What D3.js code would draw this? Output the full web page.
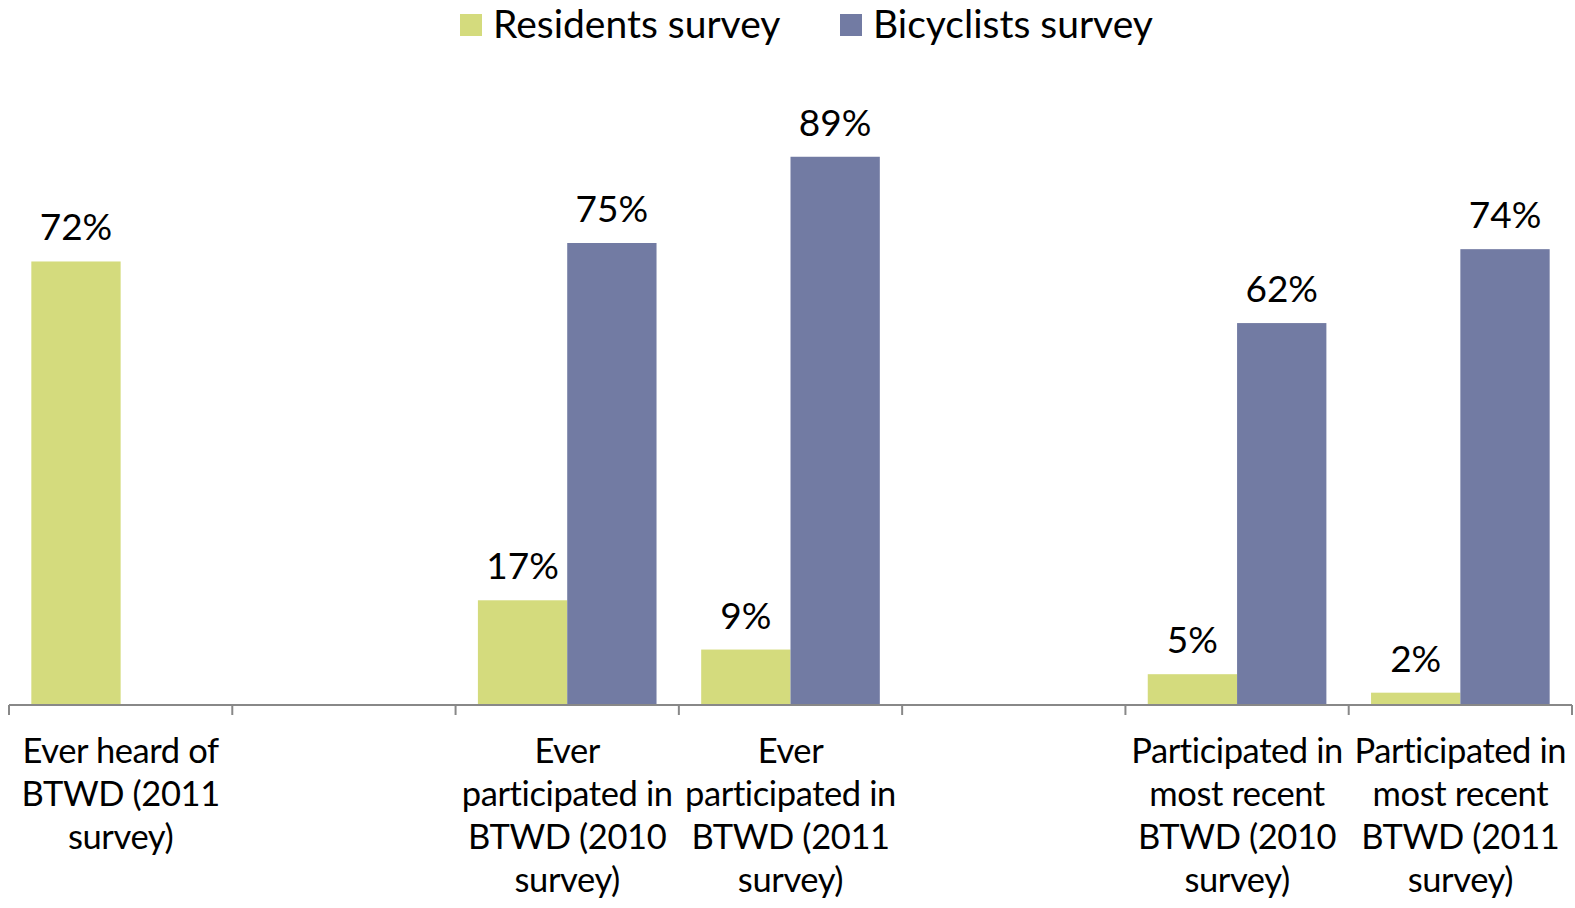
<!DOCTYPE html>
<html><head><meta charset="utf-8">
<script src="https://cdn.jsdelivr.net/npm/d3@7"></script>
<style>body{margin:0;background:#fff}svg{display:block}text{font-family:Lato,"Open Sans",sans-serif;fill:#000}</style>
</head><body>
<svg id="c" width="1575" height="908"></svg>
<script>
const categories = ["c0","c1","c2","c3","c4","c5","c6"];
const categoryLabels = [
  ["Ever heard of","BTWD (2011","survey)"],
  [],
  ["Ever","participated in","BTWD (2010","survey)"],
  ["Ever","participated in","BTWD (2011","survey)"],
  [],
  ["Participated in","most recent","BTWD (2010","survey)"],
  ["Participated in","most recent","BTWD (2011","survey)"]
];
const seriesNames = ["Residents survey","Bicyclists survey"];
const residents = [72, null, 17, 9, null, 5, 2];
const bicyclists = [null, null, 75, 89, null, 62, 74];
const colors = ["#D4DB7D","#727BA3"];

const svg = d3.select("#c");
const x = d3.scaleBand().domain(categories).range([9,1572]).paddingInner(0).paddingOuter(0);
const inner = d3.scaleBand().domain([0,1]).range([0,x.bandwidth()]).paddingInner(0).paddingOuter(0.25);
const y = d3.scaleLinear().domain([0,100]).range([705,89]);

const series = [residents, bicyclists];
series.forEach((vals,si)=>{
  const g = svg.append("g");
  categories.forEach((c,i)=>{
    const v = vals[i];
    if(v==null) return;
    const bx = x(c)+inner(si);
    g.append("rect").attr("x",bx).attr("y",y(v)).attr("width",inner.bandwidth()).attr("height",y(0)-y(v)).attr("fill",colors[si]);
    g.append("text").attr("x",bx+inner.bandwidth()/2).attr("y",y(v)-21).attr("text-anchor","middle")
      .attr("font-size",37).text(v+"%");
  });
});

// axis
const axis = svg.append("g").attr("transform","translate(0,705)");
axis.append("line").attr("x1",x.range()[0]).attr("x2",x.range()[1]).attr("stroke","#888").attr("stroke-width",2);
const tickPos = categories.map(c=>x(c)).concat([x.range()[1]]);
axis.selectAll("line.t").data(tickPos).enter().append("line").attr("class","t")
  .attr("x1",d=>d).attr("x2",d=>d).attr("y1",0).attr("y2",10).attr("stroke","#888").attr("stroke-width",2);

categories.forEach((c,i)=>{
  const t = svg.append("text").attr("text-anchor","middle").attr("font-size",34.5).attr("letter-spacing",-0.4);
  categoryLabels[i].forEach((ln,j)=>{
    t.append("tspan").attr("x",x(c)+x.bandwidth()/2).attr("y",763+43*j).text(ln);
  });
});

// legend
const legX = [460, 840];
seriesNames.forEach((n,i)=>{
  svg.append("rect").attr("x",legX[i]).attr("y",14).attr("width",22).attr("height",22).attr("fill",colors[i]);
  svg.append("text").attr("x",legX[i]+33).attr("y",38).attr("font-size",39).text(n);
});
</script>
</body></html>
